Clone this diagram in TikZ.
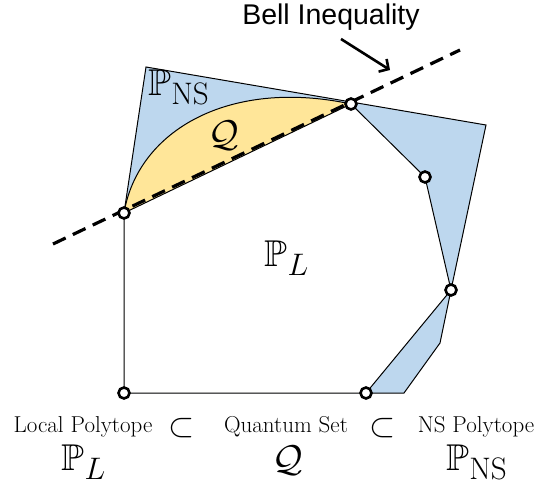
\documentclass[tikz,border=0pt]{standalone}
\usepackage{amsmath,amssymb}
\usepackage{fontspec}
\newfontfamily\bellfont{Liberation Sans}
\usetikzlibrary{arrows.meta,positioning,calc}
\definecolor{nsblue}{HTML}{BDD7EE}
\definecolor{qyellow}{HTML}{FFE699}

\begin{document}
\begin{tikzpicture}[x=1pt, y=-1pt, >=Stealth,
  vertex/.style={circle, draw, fill=white, line width=2.6pt, inner sep=0pt, minimum size=11pt},
  edge/.style={draw=black, line width=1pt},
  bell/.style={line width=3.2pt, dash pattern=on 14pt off 8pt},
  mathlabel/.style={font=\Huge, scale=1.5, transform shape, inner sep=0pt},
  caption/.style={font=\fontsize{23}{27}\selectfont, inner sep=0pt},
  subsetsign/.style={font=\Huge, scale=1.35, transform shape, inner sep=0pt}]
  \useasboundingbox (0,0) rectangle (537,484);
  % Corners of the local polytope
  \coordinate (a) at (124,213);
  \coordinate (b) at (351,104);
  \coordinate (c) at (425,177);
  \coordinate (d) at (451,290);
  \coordinate (e) at (366,393);
  \coordinate (f) at (124,393);
  % Extra corners of the NS polytope
  \coordinate (nsapex) at (146,67);
  \coordinate (nsright) at (486,125);
  \coordinate (nsnotch) at (440,343);
  \coordinate (nsfoot) at (404,393);
  % Ends of the Bell line
  \coordinate (bellstart) at (53,244);
  \coordinate (bellend) at (460,50);
  % Regions
  \fill[nsblue] (a) -- (nsapex) -- (nsright) -- (d) -- (nsnotch) -- (nsfoot) -- (e) -- (f) -- cycle;
  \fill[white] (a) -- (b) -- (c) -- (d) -- (e) -- (f) -- cycle;
  \fill[qyellow] (a) .. controls (138,130) and (230,78) .. (b) -- cycle;
  % Outlines
  \draw[edge] (a) -- (nsapex) -- (nsright) -- (d) -- (nsnotch) -- (nsfoot) -- (e);
  \draw[edge] (a) -- (b) -- (c) -- (d) -- (e) -- (f) -- cycle;
  \draw[edge] (a) .. controls (138,130) and (230,78) .. (b);
  \draw[bell] (bellstart) -- (bellend);
  % Labels
  \node[font=\bellfont\fontsize{28.5}{32}\selectfont] (bellnote) at (331,17) {Bell Inequality};
  \coordinate (arrowtail) at (341,39);
  \coordinate (arrowtip) at (390,70);
  \draw[-{Straight Barb[length=7pt,width=15pt]}, line width=2.6pt] (arrowtail) -- (arrowtip);
  \node[mathlabel] (pns) at (179,87) {$\mathbb{P}_{\mathrm{NS}}$};
  \node[mathlabel] (qlabel) at (224,136) {$\mathcal{Q}$};
  \node[mathlabel] (pl) at (287,258) {$\mathbb{P}_L$};
  % Caption row
  \node[caption] (localcap) at (83,427) {Local Polytope};
  \node[caption] (quantcap) at (286,427) {Quantum Set};
  \node[caption] (nscap) at (476,427) {NS Polytope};
  \node[subsetsign] (sub1) at (182,428) {$\subset$};
  \node[subsetsign] (sub2) at (383,428) {$\subset$};
  \node[mathlabel] (plsym) at (84,462) {$\mathbb{P}_L$};
  \node[mathlabel] (qsym) at (288,461) {$\mathcal{Q}$};
  \node[mathlabel] (nssym) at (477,462) {$\mathbb{P}_{\mathrm{NS}}$};
  % Vertices on top
  \foreach \v in {a,b,c,d,e,f}
    \node[vertex] (v\v) at (\v) {};
\end{tikzpicture}
\end{document}
